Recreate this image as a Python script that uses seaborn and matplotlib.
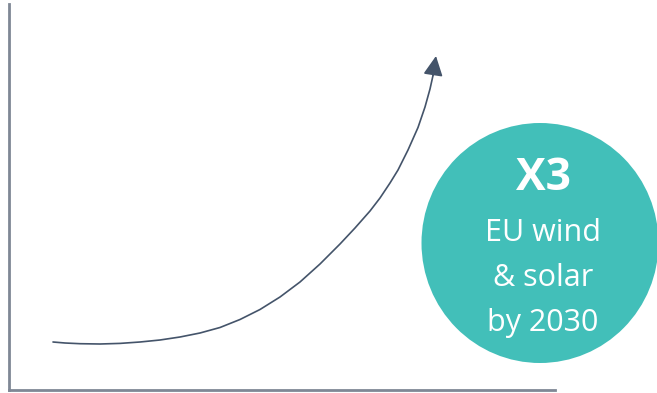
import matplotlib
matplotlib.use("Agg")
import matplotlib.pyplot as plt
import seaborn as sns
import pandas as pd
from matplotlib.patches import Ellipse

sns.set_theme(style="white")
plt.rcParams['font.family'] = ['Open Sans', 'DejaVu Sans']

# Conceptual growth curve (axis units; no real scale)
curve_x = [44, 56, 71, 91, 111, 131, 151, 171, 191, 211, 231, 251, 271, 291,
           311, 331, 346, 361, 371, 381, 389, 399, 409, 416, 421, 424]
curve_y = [48, 47, 46.3, 46, 46.6, 48, 50, 53, 57, 62.5, 70.5, 80.5, 93, 108,
           126, 146, 162, 179, 192, 207, 220, 240, 262.5, 283, 301, 314.5]
arrow_tip = (427, 334)

badge_title = "X3"
badge_lines = ["EU wind", "& solar", "by 2030"]

W, H = 657, 393
fig = plt.figure(figsize=(W / 100, H / 100), dpi=100)
fig.patch.set_facecolor("white")
ax = fig.add_axes([9 / W, 3 / H, 546 / W, 386 / H])
ax.set_xlim(0, 546)
ax.set_ylim(0, 386)
ax.set_facecolor("white")

df = pd.DataFrame({"x": curve_x, "y": curve_y})
sns.lineplot(data=df, x="x", y="y", ax=ax, color="#44546a", linewidth=1.2,
             sort=False, estimator=None)
ax.lines[0].set_solid_joinstyle("round")
ax.annotate("", xy=arrow_tip, xytext=(curve_x[-1], curve_y[-1]),
            arrowprops=dict(arrowstyle="-|>,head_length=0.6,head_width=0.3",
                            mutation_scale=20, color="#44546a", lw=1.2,
                            shrinkA=0, shrinkB=0))

ax.set_xticks([])
ax.set_yticks([])
ax.set_xlabel("")
ax.set_ylabel("")
for s in ["top", "right"]:
    ax.spines[s].set_visible(False)
for s in ["left", "bottom"]:
    ax.spines[s].set_visible(True)
    ax.spines[s].set_color("#7f8795")
    ax.spines[s].set_linewidth(2.0)

# badge (figure pixel coordinates)
ov = fig.add_axes([0, 0, 1, 1])
ov.set_xlim(0, W)
ov.set_ylim(H, 0)
ov.axis("off")
ov.patch.set_alpha(0)
ov.add_patch(Ellipse((540, 243), 237, 240, color="#42bfb9", lw=0))
ov.text(543, 178, badge_title, ha="center", va="center", color="white",
        fontsize=32, fontweight="bold")
for i, t in enumerate(badge_lines):
    ov.text(543, 233 + 45 * i, t, ha="center", va="center", color="white",
            fontsize=22)

fig.savefig("out.png", dpi=100, facecolor="white")
